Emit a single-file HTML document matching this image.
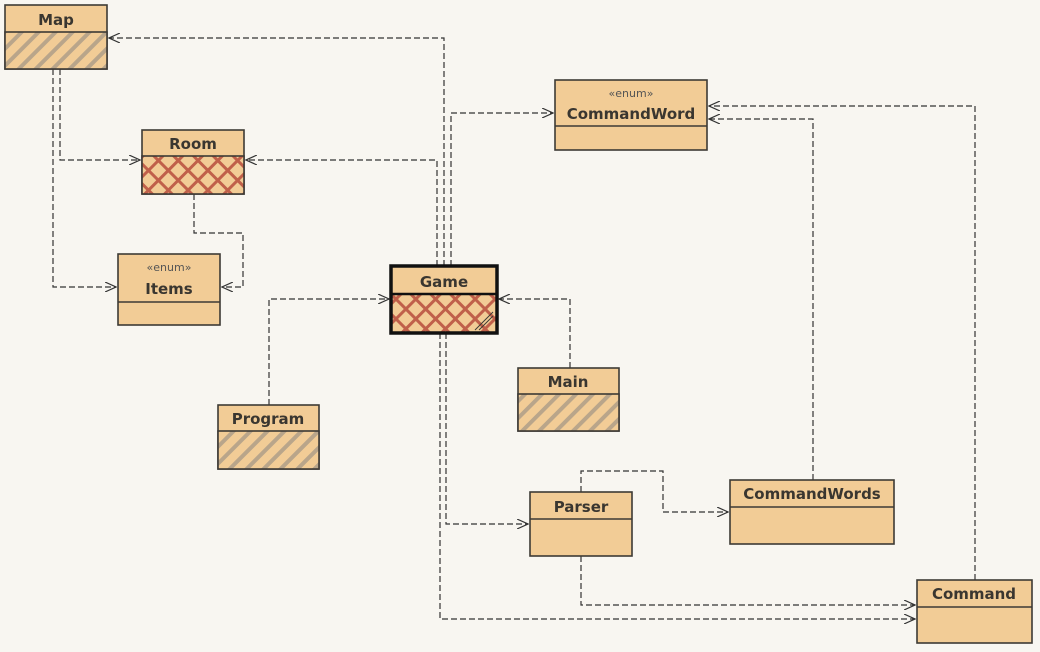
<!DOCTYPE html>
<html><head><meta charset="utf-8"><style>
html,body{margin:0;padding:0;background:#f8f6f1;}
svg{display:block}
text{font-family:"DejaVu Sans","Liberation Sans",sans-serif;fill:#3a3630;}
.t{font-weight:bold;font-size:15px;text-anchor:middle}
.e{font-size:11px;text-anchor:middle;fill:#555}
.b{fill:#f2cc96;stroke:#3d3a35;stroke-width:1.6}
.l{stroke:#3d3a35;stroke-width:1.6}
.c{fill:none;stroke:#333;stroke-width:1.2;stroke-dasharray:6,3}
.a{fill:none;stroke:#333;stroke-width:1.2}
</style></head><body>
<svg width="1040" height="652" viewBox="0 0 1040 652" xmlns="http://www.w3.org/2000/svg">
<defs>
<pattern id="h" patternUnits="userSpaceOnUse" width="12" height="12" patternTransform="rotate(45)">
<rect width="12" height="12" fill="#f2cc96"/><rect width="4" height="12" fill="#b9a58a"/></pattern>
<pattern id="x" patternUnits="userSpaceOnUse" width="14" height="14" patternTransform="rotate(45)">
<rect width="14" height="14" fill="#f2cc96"/><rect width="3" height="14" fill="#c0604a"/><rect width="14" height="3" fill="#c0604a"/></pattern>
<marker id="ar" markerWidth="12" markerHeight="10" refX="11" refY="5" orient="auto" markerUnits="userSpaceOnUse">
<path d="M0,0 L11,5 L0,10" class="a"/></marker>
</defs>

<g class="c" marker-end="url(#ar)">
<path d="M444,266 V38 H109"/>
<path d="M437,266 V160 H246"/>
<path d="M451,266 V113 H553"/>
<path d="M60,69 V160 H140"/>
<path d="M53,69 V287 H116"/>
<path d="M194,194 V233 H243 V287 H222"/>
<path d="M269,405 V299 H389"/>
<path d="M570,368 V299 H499"/>
<path d="M446,333 V524 H528"/>
<path d="M440,333 V619 H915"/>
<path d="M581,492 V471 H663 V512 H728"/>
<path d="M581,556 V605 H915"/>
<path d="M813,480 V119 H709"/>
<path d="M975,580 V106 H709"/>
</g>

<rect x="5" y="5" width="102" height="64" class="b"/>
<rect x="5" y="32" width="102" height="37" class="b" style="fill:url(#h)"/>
<text x="56" y="25" class="t">Map</text>

<rect x="142" y="130" width="102" height="64" class="b"/>
<rect x="142" y="156" width="102" height="38" class="b" style="fill:url(#x)"/>
<text x="193" y="149" class="t">Room</text>

<rect x="118" y="254" width="102" height="71" class="b"/>
<line x1="118" y1="302" x2="220" y2="302" class="l"/>
<text x="169" y="271" class="e">«enum»</text>
<text x="169" y="294" class="t">Items</text>

<rect x="555" y="80" width="152" height="70" class="b"/>
<line x1="555" y1="126" x2="707" y2="126" class="l"/>
<text x="631" y="97" class="e">«enum»</text>
<text x="631" y="119" class="t">CommandWord</text>

<rect x="391" y="266" width="106" height="67" class="b"/>
<rect x="391" y="294" width="106" height="39" style="fill:url(#x)"/>
<line x1="391" y1="294" x2="497" y2="294" stroke="#111" stroke-width="2.5"/>
<rect x="391" y="266" width="106" height="67" fill="none" stroke="#111" stroke-width="3.5"/>
<text x="444" y="287" class="t">Game</text>
<line x1="475" y1="330" x2="493" y2="312" stroke="#3d3a35" stroke-width="1"/>
<line x1="479" y1="330" x2="493" y2="316" stroke="#3d3a35" stroke-width="1"/>

<rect x="518" y="368" width="101" height="63" class="b"/>
<rect x="518" y="394" width="101" height="37" class="b" style="fill:url(#h)"/>
<text x="568" y="387" class="t">Main</text>

<rect x="218" y="405" width="101" height="64" class="b"/>
<rect x="218" y="431" width="101" height="38" class="b" style="fill:url(#h)"/>
<text x="268" y="424" class="t">Program</text>

<rect x="530" y="492" width="102" height="64" class="b"/>
<line x1="530" y1="519" x2="632" y2="519" class="l"/>
<text x="581" y="512" class="t">Parser</text>

<rect x="730" y="480" width="164" height="64" class="b"/>
<line x1="730" y1="507" x2="894" y2="507" class="l"/>
<text x="812" y="499" class="t">CommandWords</text>

<rect x="917" y="580" width="115" height="63" class="b"/>
<line x1="917" y1="607" x2="1032" y2="607" class="l"/>
<text x="974" y="599" class="t">Command</text>
</svg>
</body></html>
